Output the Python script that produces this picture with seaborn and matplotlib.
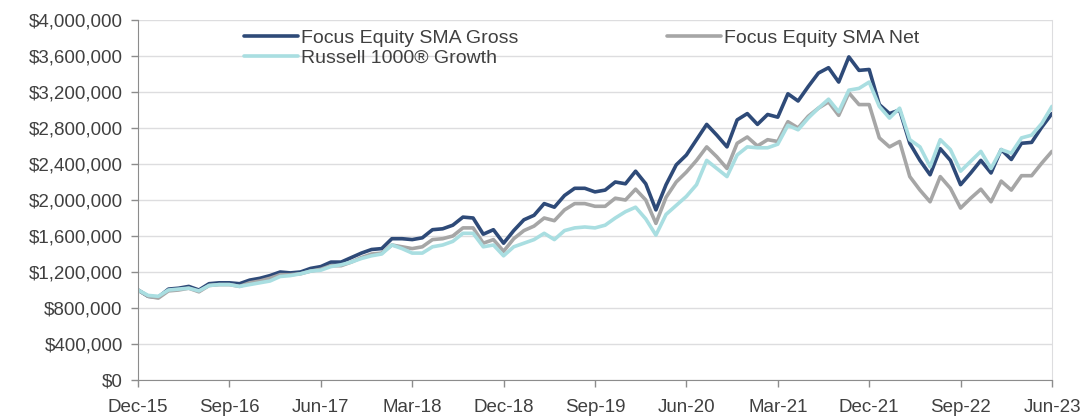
import pandas as pd
import matplotlib.pyplot as plt
from matplotlib.ticker import FuncFormatter
import seaborn as sns

# month-end values, Dec-15 .. Jun-23 (growth of $1M, in $M)
months = list(range(91))
tick_labels = ["Dec-15", "Sep-16", "Jun-17", "Mar-18", "Dec-18", "Sep-19",
               "Jun-20", "Mar-21", "Dec-21", "Sep-22", "Jun-23"]

gross = [1.00, 0.93, 0.92, 1.01, 1.02, 1.04, 1.00, 1.07, 1.08, 1.08, 1.07, 1.11, 1.13,
         1.16, 1.20, 1.19, 1.20, 1.24, 1.26, 1.31, 1.31, 1.36, 1.41, 1.45, 1.46,
         1.57, 1.57, 1.56, 1.58, 1.67, 1.68, 1.72, 1.81, 1.80, 1.62, 1.67, 1.52,
         1.66, 1.78, 1.83, 1.96, 1.92, 2.05, 2.13, 2.13, 2.09, 2.11, 2.20, 2.18,
         2.32, 2.18, 1.89, 2.17, 2.39, 2.50, 2.67, 2.84, 2.72, 2.59, 2.89, 2.96,
         2.84, 2.95, 2.92, 3.18, 3.10, 3.26, 3.41, 3.47, 3.31, 3.59, 3.44, 3.45,
         3.06, 2.96, 3.00, 2.63, 2.44, 2.28, 2.57, 2.44, 2.17, 2.30, 2.44, 2.30,
         2.56, 2.45, 2.63, 2.64, 2.81, 2.96]

net = [1.00, 0.93, 0.91, 0.99, 1.00, 1.02, 0.98, 1.05, 1.06, 1.06, 1.04, 1.08, 1.10,
       1.13, 1.17, 1.17, 1.18, 1.21, 1.23, 1.27, 1.27, 1.31, 1.36, 1.40, 1.41,
       1.50, 1.48, 1.46, 1.48, 1.56, 1.57, 1.60, 1.69, 1.69, 1.52, 1.56, 1.43,
       1.57, 1.66, 1.71, 1.80, 1.77, 1.89, 1.96, 1.96, 1.93, 1.93, 2.02, 2.00,
       2.12, 2.00, 1.74, 2.03, 2.20, 2.31, 2.44, 2.59, 2.48, 2.35, 2.63, 2.70,
       2.60, 2.67, 2.65, 2.87, 2.80, 2.93, 3.02, 3.09, 2.94, 3.19, 3.06, 3.06,
       2.69, 2.59, 2.65, 2.26, 2.11, 1.98, 2.26, 2.13, 1.91, 2.02, 2.12, 1.98,
       2.21, 2.11, 2.27, 2.27, 2.41, 2.54]

russell = [1.00, 0.94, 0.93, 1.00, 1.01, 1.02, 0.99, 1.05, 1.06, 1.06, 1.04, 1.06, 1.08,
           1.10, 1.15, 1.16, 1.18, 1.21, 1.22, 1.26, 1.28, 1.31, 1.35, 1.38, 1.40,
           1.50, 1.46, 1.41, 1.41, 1.48, 1.50, 1.54, 1.63, 1.63, 1.48, 1.50, 1.38,
           1.48, 1.52, 1.56, 1.63, 1.56, 1.66, 1.69, 1.70, 1.69, 1.72, 1.80, 1.87,
           1.92, 1.79, 1.61, 1.84, 1.94, 2.04, 2.17, 2.44, 2.35, 2.26, 2.50, 2.59,
           2.58, 2.58, 2.62, 2.83, 2.78, 2.91, 3.02, 3.12, 2.98, 3.22, 3.24, 3.31,
           3.04, 2.91, 3.02, 2.67, 2.59, 2.37, 2.67, 2.56, 2.32, 2.43, 2.54, 2.35,
           2.56, 2.52, 2.69, 2.72, 2.85, 3.04]

names = ["Focus Equity SMA Gross", "Focus Equity SMA Net", "Russell 1000\u00ae Growth"]
colors = ["#2E4A78", "#A6A6A6", "#A9DEE1"]

df = pd.concat([
    pd.DataFrame({"month": months, "value": [v * 1e6 for v in s], "series": n})
    for s, n in zip([gross, net, russell], names)
])

sns.set_style("white")
plt.rcParams["font.family"] = ["Liberation Sans", "DejaVu Sans"]

fig = plt.figure(figsize=(10.9, 4.16), dpi=100)
ax = fig.add_axes([0.1266, 0.0865, 0.8385, 0.8655])

sns.lineplot(data=df, x="month", y="value", hue="series", hue_order=names,
             palette=colors, linewidth=2.6, ax=ax)

ax.set_xlim(0, 90)
ax.set_ylim(0, 4e6)
ax.set_yticks([i * 400000 for i in range(11)])
ax.yaxis.set_major_formatter(FuncFormatter(lambda v, p: f"${v:,.0f}"))
ax.set_xticks(range(0, 91, 9))
ax.set_xticklabels(tick_labels)
ax.set_xlabel("")
ax.set_ylabel("")

ax.grid(axis="y", color="#DDDDDF", linewidth=1)
ax.set_axisbelow(True)
for side in ["left", "bottom"]:
    ax.spines[side].set_color("#8C8C8C")
ax.spines["top"].set_visible(False)
ax.spines["right"].set_color("#DDDDDF")
ax.tick_params(axis="both", labelsize=13.5, colors="#8C8C8C", labelcolor="#404040",
               length=5, width=1, direction="out")
ax.tick_params(axis="y", left=True, pad=6)
ax.tick_params(axis="x", bottom=True, pad=9)

h, l = ax.get_legend_handles_labels()
order = [0, 2, 1]
ax.legend([h[i] for i in order], [l[i] for i in order], ncol=2, frameon=False,
          loc="upper left", bbox_to_anchor=(0.116, 0.975), fontsize=14,
          handlelength=2.8, handletextpad=0.15, columnspacing=7.6,
          labelspacing=0.12, borderpad=0, borderaxespad=0, labelcolor="#404040")

fig.savefig("out.png", dpi=100)
